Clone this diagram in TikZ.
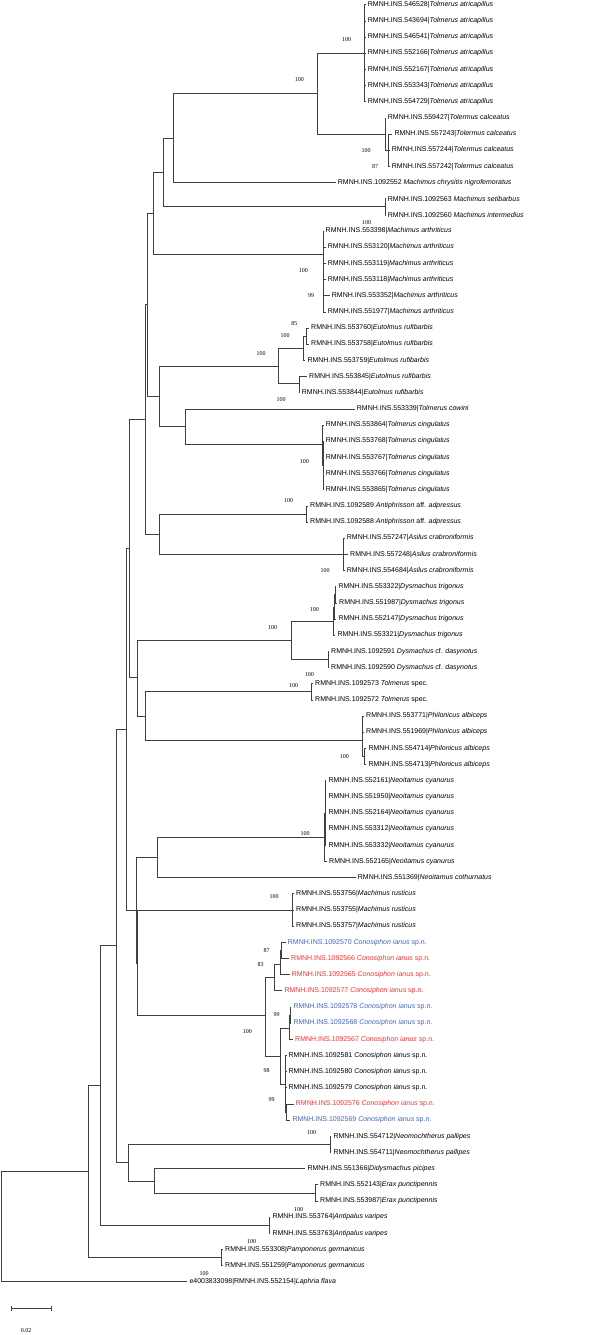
\documentclass[tikz,border=0pt]{standalone}
\usepackage{fontspec}
\setmainfont{Liberation Sans}
\newfontfamily\bootfont{Liberation Serif}
\usepackage{xcolor}
\usepackage{tikz}
\definecolor{idblue}{RGB}{68,100,190}
\definecolor{idred}{RGB}{245,50,50}

\begin{document}
\begin{tikzpicture}[x=1pt, y=-16.165pt,
    leaf/.style={anchor=west, inner xsep=2pt, inner ysep=0pt, font=\fontsize{7}{8}\selectfont},
    boot/.style={inner sep=0pt, font=\bootfont\fontsize{6}{7}\selectfont},
    branch/.style={line width=0.6pt, black!75}]
    \useasboundingbox (0,0.7093) rectangle (609,83.295);

    % Tolmerus atricapillus / calceatus
    \coordinate (natr) at (364.3,4);
    \coordinate (ncal) at (385,9);
    \coordinate (ncalb) at (388,10);
    \coordinate (ntolm) at (317,6.5);
    \node[leaf] (atr1) at (365.7,1) {RMNH.INS.546528|\textit{Tolmerus atricapillus}};
    \node[leaf] (atr2) at (365.7,2) {RMNH.INS.543694|\textit{Tolmerus atricapillus}};
    \node[leaf] (atr3) at (365.7,3) {RMNH.INS.546541|\textit{Tolmerus atricapillus}};
    \node[leaf] (atr4) at (365.7,4) {RMNH.INS.552166|\textit{Tolmerus atricapillus}};
    \node[leaf] (atr5) at (365.7,5) {RMNH.INS.552167|\textit{Tolmerus atricapillus}};
    \node[leaf] (atr6) at (365.7,6) {RMNH.INS.553343|\textit{Tolmerus atricapillus}};
    \node[leaf] (atr7) at (365.7,7) {RMNH.INS.554729|\textit{Tolmerus atricapillus}};
    \node[leaf] (cal1) at (385.7,8) {RMNH.INS.559427|\textit{Tolermus calceatus}};
    \node[leaf] (cal2) at (392.3,9) {RMNH.INS.557243|\textit{Tolermus calceatus}};
    \node[leaf] (cal3) at (389.7,10) {RMNH.INS.557244|\textit{Tolermus calceatus}};
    \node[leaf] (cal4) at (389.7,11) {RMNH.INS.557242|\textit{Tolermus calceatus}};
    \draw[branch] (natr) |- (atr1.west) (natr) |- (atr2.west) (natr) |- (atr3.west) (natr) |- (atr4.west)
        (natr) |- (atr5.west) (natr) |- (atr6.west) (natr) |- (atr7.west);
    \draw[branch] (ncal) |- (cal1.west) (ncal) |- (ncalb) (ncalb) |- (cal2.west) (ncalb) |- (cal3.west) (ncalb) |- (cal4.west);
    \draw[branch] (ntolm) |- (natr) (ntolm) |- (ncal);

    % Machimus
    \coordinate (nchry) at (173.7,9.25);
    \coordinate (nseti) at (385,13.5);
    \coordinate (nmacha) at (163.3,11.375);
    \coordinate (narth) at (323.3,16.42);
    \coordinate (nmachb) at (153.3,13.9);
    \node[leaf] (chry) at (335.7,12) {RMNH.INS.1092552 \textit{Machimus chrysitis nigrofemoratus}};
    \node[leaf] (seti) at (385.7,13) {RMNH.INS.1092563 \textit{Machimus setibarbus}};
    \node[leaf] (inter) at (385.7,14) {RMNH.INS.1092560 \textit{Machimus intermedius}};
    \node[leaf] (arth1) at (323.5,15) {RMNH.INS.553398|\textit{Machimus arthriticus}};
    \node[leaf] (arth2) at (325.7,16) {RMNH.INS.553120|\textit{Machimus arthriticus}};
    \node[leaf] (arth3) at (325.7,17) {RMNH.INS.553119|\textit{Machimus arthriticus}};
    \node[leaf] (arth4) at (325.7,18) {RMNH.INS.553118|\textit{Machimus arthriticus}};
    \node[leaf] (arth5) at (329.7,19) {RMNH.INS.553352|\textit{Machimus arthriticus}};
    \node[leaf] (arth6) at (325.7,20) {RMNH.INS.551977|\textit{Machimus arthriticus}};
    \draw[branch] (nchry) |- (ntolm) (nchry) |- (chry.west);
    \draw[branch] (nseti) |- (seti.west) (nseti) |- (inter.west);
    \draw[branch] (nmacha) |- (nchry) (nmacha) |- (nseti);
    \draw[branch] (narth) |- (arth1.west) (narth) |- (arth2.west) (narth) |- (arth3.west)
        (narth) |- (arth4.west) (narth) |- (arth5.west) (narth) |- (arth6.west);
    \draw[branch] (nmachb) |- (nmacha) (nmachb) |- (narth);

    % Eutolmus, Tolmerus cowini / cingulatus
    \coordinate (neut) at (278.7,23.34);
    \coordinate (neutx) at (303.3,22.25);
    \coordinate (neutxx) at (306.7,21.5);
    \coordinate (neuty) at (299,24.42);
    \coordinate (ncow) at (185.3,27.1);
    \coordinate (ncin) at (322.7,28.22);
    \coordinate (ncinb) at (323.3,29.5);
    \coordinate (neutcow) at (159.3,25.22);
    \coordinate (nupper) at (147.7,19.52);
    \node[leaf] (eut1) at (309,21) {RMNH.INS.553760|\textit{Eutolmus rufibarbis}};
    \node[leaf] (eut2) at (309,22) {RMNH.INS.553758|\textit{Eutolmus rufibarbis}};
    \node[leaf] (eut3) at (305.3,23) {RMNH.INS.553759|\textit{Eutolmus rufibarbis}};
    \node[leaf] (eut4) at (307,24) {RMNH.INS.553845|\textit{Eutolmus rufibarbis}};
    \node[leaf] (eut5) at (299.7,25) {RMNH.INS.553844|\textit{Eutolmus rufibarbis}};
    \node[leaf] (cow) at (354.7,26) {RMNH.INS.553339|\textit{Tolmerus cowini}};
    \node[leaf] (cin1) at (323.7,27) {RMNH.INS.553864|\textit{Tolmerus cingulatus}};
    \node[leaf] (cin2) at (323.7,28) {RMNH.INS.553768|\textit{Tolmerus cingulatus}};
    \node[leaf] (cin3) at (323.7,29) {RMNH.INS.553767|\textit{Tolmerus cingulatus}};
    \node[leaf] (cin4) at (323.7,30) {RMNH.INS.553766|\textit{Tolmerus cingulatus}};
    \node[leaf] (cin5) at (323.7,31) {RMNH.INS.553865|\textit{Tolmerus cingulatus}};
    \draw[branch] (neutxx) |- (eut1.west) (neutxx) |- (eut2.west) (neutx) |- (neutxx) (neutx) |- (eut3.west);
    \draw[branch] (neuty) |- (eut4.west) (neuty) |- (eut5.west) (neut) |- (neutx) (neut) |- (neuty);
    \draw[branch] (ncinb) |- (cin2.west) (ncinb) |- (cin3.west) (ncinb) |- (cin4.west) (ncinb) |- (cin5.west);
    \draw[branch] (ncin) |- (cin1.west) (ncin) |- (ncinb) (ncow) |- (cow.west) (ncow) |- (ncin);
    \draw[branch] (neutcow) |- (neut) (neutcow) |- (ncow);
    \draw[branch] (nupper) |- (nmachb) (nupper) |- (neutcow);

    % Antiphrisson, Asilus
    \coordinate (nanti) at (306,32.5);
    \coordinate (nasil) at (343.3,35);
    \coordinate (nantasil) at (159.3,33.74);
    \coordinate (nmid) at (145,26.65);
    \node[leaf] (anti1) at (308,32) {RMNH.INS.1092589 \textit{Antiphrisson} aff. \textit{adpressus}};
    \node[leaf] (anti2) at (308,33) {RMNH.INS.1092588 \textit{Antiphrisson} aff. \textit{adpressus}};
    \node[leaf] (asil1) at (344.7,34) {RMNH.INS.557247|\textit{Asilus crabroniformis}};
    \node[leaf] (asil2) at (348,35) {RMNH.INS.557248|\textit{Asilus crabroniformis}};
    \node[leaf] (asil3) at (344.7,36) {RMNH.INS.554684|\textit{Asilus crabroniformis}};
    \draw[branch] (nanti) |- (anti1.west) (nanti) |- (anti2.west);
    \draw[branch] (nasil) |- (asil1.west) (nasil) |- (asil2.west) (nasil) |- (asil3.west);
    \draw[branch] (nantasil) |- (nanti) (nantasil) |- (nasil);
    \draw[branch] (nmid) |- (nupper) (nmid) |- (nantasil);

    % Dysmachus, Tolmerus spec., Philonicus
    \coordinate (ndys) at (291,40.3);
    \coordinate (ntri) at (333.3,39.12);
    \coordinate (ntrib) at (333.8,38.25);
    \coordinate (ntric) at (335,37.5);
    \coordinate (ndas) at (328.3,41.5);
    \coordinate (ntsp) at (311.7,43.5);
    \coordinate (nphil) at (362.3,46.5);
    \coordinate (nphila) at (362.5,45.5);
    \coordinate (nphilb) at (364.7,47.5);
    \coordinate (ntspphil) at (145.7,45);
    \coordinate (ndysphil) at (137.7,42.6);
    \coordinate (na) at (129.3,34.6);
    \node[leaf] (tri1) at (336.3,37) {RMNH.INS.553322|\textit{Dysmachus trigonus}};
    \node[leaf] (tri2) at (337,38) {RMNH.INS.551987|\textit{Dysmachus trigonus}};
    \node[leaf] (tri3) at (336.3,39) {RMNH.INS.552147|\textit{Dysmachus trigonus}};
    \node[leaf] (tri4) at (335.3,40) {RMNH.INS.553321|\textit{Dysmachus trigonus}};
    \node[leaf] (das1) at (329,41) {RMNH.INS.1092591 \textit{Dysmachus} cf. \textit{dasynotus}};
    \node[leaf] (das2) at (329,42) {RMNH.INS.1092590 \textit{Dysmachus} cf. \textit{dasynotus}};
    \node[leaf] (tsp1) at (313,43) {RMNH.INS.1092573 \textit{Tolmerus} spec.};
    \node[leaf] (tsp2) at (313,44) {RMNH.INS.1092572 \textit{Tolmerus} spec.};
    \node[leaf] (phil1) at (364,45) {RMNH.INS.553771|\textit{Philonicus albiceps}};
    \node[leaf] (phil2) at (364,46) {RMNH.INS.551969|\textit{Philonicus albiceps}};
    \node[leaf] (phil3) at (366.3,47) {RMNH.INS.554714|\textit{Philonicus albiceps}};
    \node[leaf] (phil4) at (366.3,48) {RMNH.INS.554713|\textit{Philonicus albiceps}};
    \draw[branch] (ntric) |- (tri1.west) (ntric) |- (tri2.west) (ntrib) |- (ntric) (ntrib) |- (tri3.west);
    \draw[branch] (ntri) |- (ntrib) (ntri) |- (tri4.west) (ndas) |- (das1.west) (ndas) |- (das2.west);
    \draw[branch] (ndys) |- (ntri) (ndys) |- (ndas);
    \draw[branch] (ntsp) |- (tsp1.west) (ntsp) |- (tsp2.west);
    \draw[branch] (nphila) |- (phil1.west) (nphila) |- (phil2.west) (nphilb) |- (phil3.west) (nphilb) |- (phil4.west);
    \draw[branch] (nphil) |- (nphila) (nphil) |- (nphilb);
    \draw[branch] (ntspphil) |- (ntsp) (ntspphil) |- (nphil);
    \draw[branch] (ndysphil) |- (ndys) (ndysphil) |- (ntspphil);
    \draw[branch] (na) |- (nmid) (na) |- (ndysphil);

    % Neoitamus, Machimus rusticus
    \coordinate (nneo) at (157,53.77);
    \coordinate (ncya) at (324.3,52.53);
    \coordinate (ncyab) at (325,51);
    \coordinate (nrus) at (292.7,57);
    \node[leaf] (cya1) at (326.3,49) {RMNH.INS.552161|\textit{Neoitamus cyanurus}};
    \node[leaf] (cya2) at (326.3,50) {RMNH.INS.551950|\textit{Neoitamus cyanurus}};
    \node[leaf] (cya3) at (326.3,51) {RMNH.INS.552164|\textit{Neoitamus cyanurus}};
    \node[leaf] (cya4) at (326.3,52) {RMNH.INS.553312|\textit{Neoitamus cyanurus}};
    \node[leaf] (cya5) at (326.3,53) {RMNH.INS.553332|\textit{Neoitamus cyanurus}};
    \node[leaf] (cya6) at (327,54) {RMNH.INS.552165|\textit{Neoitamus cyanurus}};
    \node[leaf] (coth) at (355.7,55) {RMNH.INS.551369|\textit{Neoitamus cothurnatus}};
    \node[leaf] (rus1) at (294,56) {RMNH.INS.553756|\textit{Machimus rusticus}};
    \node[leaf] (rus2) at (294,57) {RMNH.INS.553755|\textit{Machimus rusticus}};
    \node[leaf] (rus3) at (294,58) {RMNH.INS.553757|\textit{Machimus rusticus}};
    \draw[branch] (ncyab) |- (cya1.west) (ncyab) |- (cya2.west) (ncyab) |- (cya3.west)
        (ncyab) |- (cya4.west) (ncyab) |- (cya5.west);
    \draw[branch] (ncya) |- (ncyab) (ncya) |- (cya6.west) (nneo) |- (ncya) (nneo) |- (coth.west);
    \draw[branch] (nrus) |- (rus1.west) (nrus) |- (rus2.west) (nrus) |- (rus3.west);

    % Conosiphon ianus
    \coordinate (ncon) at (265,63.5);
    \coordinate (nc1) at (274,61.15);
    \coordinate (nc2) at (280,60.36);
    \coordinate (nc3) at (281,59.5);
    \coordinate (nc4) at (280,66.05);
    \coordinate (nc5) at (289.3,64.3);
    \coordinate (nc6) at (290,63.5);
    \coordinate (nc7) at (285.7,67.8);
    \coordinate (nc8) at (286,69.5);
    \node[leaf, text=idblue] (con1) at (285.7,59) {RMNH.INS.1092570 \textit{Conosiphon ianus} sp.n.};
    \node[leaf, text=idred] (con2) at (289,60) {RMNH.INS.1092566 \textit{Conosiphon ianus} sp.n.};
    \node[leaf, text=idred] (con3) at (289.7,61) {RMNH.INS.1092565 \textit{Conosiphon ianus} sp.n.};
    \node[leaf, text=idred] (con4) at (282.3,62) {RMNH.INS.1092577 \textit{Conosiphon ianus} sp.n.};
    \node[leaf, text=idblue] (con5) at (291.3,63) {RMNH.INS.1092578 \textit{Conosiphon ianus} sp.n.};
    \node[leaf, text=idblue] (con6) at (291.3,64) {RMNH.INS.1092568 \textit{Conosiphon ianus} sp.n.};
    \node[leaf, text=idred] (con7) at (293,65) {RMNH.INS.1092567 \textit{Conosiphon ianus} sp.n.};
    \node[leaf] (con8) at (286.3,66) {RMNH.INS.1092581 \textit{Conosiphon ianus} sp.n.};
    \node[leaf] (con9) at (286.3,67) {RMNH.INS.1092580 \textit{Conosiphon ianus} sp.n.};
    \node[leaf] (con10) at (286.3,68) {RMNH.INS.1092579 \textit{Conosiphon ianus} sp.n.};
    \node[leaf, text=idred] (con11) at (293.7,69) {RMNH.INS.1092576 \textit{Conosiphon ianus} sp.n.};
    \node[leaf, text=idblue] (con12) at (290.3,70) {RMNH.INS.1092569 \textit{Conosiphon ianus} sp.n.};
    \draw[branch] (nc3) |- (con1.west) (nc3) |- (con2.west) (nc2) |- (nc3) (nc2) |- (con3.west);
    \draw[branch] (nc1) |- (nc2) (nc1) |- (con4.west);
    \draw[branch] (nc6) |- (con5.west) (nc6) |- (con6.west) (nc5) |- (nc6) (nc5) |- (con7.west);
    \draw[branch] (nc8) |- (con11.west) (nc8) |- (con12.west);
    \draw[branch] (nc7) |- (con8.west) (nc7) |- (con9.west) (nc7) |- (con10.west) (nc7) |- (nc8);
    \draw[branch] (nc4) |- (nc5) (nc4) |- (nc7) (ncon) |- (nc1) (ncon) |- (nc4);

    % Joining the middle part
    \coordinate (nneorus) at (136.7,57.05);
    \coordinate (nruscon) at (137.7,60.27);
    \coordinate (nb) at (126,45.8);
    \draw[branch] (nruscon) |- (nrus) (nruscon) |- (ncon);
    \draw[branch] (nneorus) |- (nneo) (nneorus) |- (nruscon);
    \draw[branch] (nb) |- (na) (nb) |- (nneorus);

    % Neomochtherus, Didysmachus, Erax
    \coordinate (nneom) at (330,71.5);
    \coordinate (ndidy) at (154,73.77);
    \coordinate (nerax) at (315.7,74.5);
    \coordinate (nlow) at (128.3,72.6);
    \coordinate (nc) at (116,59.2);
    \node[leaf] (neom1) at (331.3,71) {RMNH.INS.554712|\textit{Neomochtherus pallipes}};
    \node[leaf] (neom2) at (331.3,72) {RMNH.INS.554711|\textit{Neomochtherus pallipes}};
    \node[leaf] (didy) at (305.3,73) {RMNH.INS.551366|\textit{Didysmachus picipes}};
    \node[leaf] (erax1) at (318,74) {RMNH.INS.552143|\textit{Erax punctipennis}};
    \node[leaf] (erax2) at (318,75) {RMNH.INS.553987|\textit{Erax punctipennis}};
    \draw[branch] (nneom) |- (neom1.west) (nneom) |- (neom2.west);
    \draw[branch] (nerax) |- (erax1.west) (nerax) |- (erax2.west) (ndidy) |- (didy.west) (ndidy) |- (nerax);
    \draw[branch] (nlow) |- (nneom) (nlow) |- (ndidy);
    \draw[branch] (nc) |- (nb) (nc) |- (nlow);

    % Antipalus, Pamponerus, Laphria
    \coordinate (nantip) at (269,76.5);
    \coordinate (npamp) at (221.7,78.5);
    \coordinate (nd) at (100.7,67.85);
    \coordinate (ne) at (88.3,73.15);
    \coordinate (nroot) at (1,76.5);
    \node[leaf] (antip1) at (270.3,76) {RMNH.INS.553764|\textit{Antipalus varipes}};
    \node[leaf] (antip2) at (270.3,77) {RMNH.INS.553763|\textit{Antipalus varipes}};
    \node[leaf] (pamp1) at (223,78) {RMNH.INS.553308|\textit{Pamponerus germanicus}};
    \node[leaf] (pamp2) at (223,79) {RMNH.INS.551259|\textit{Pamponerus germanicus}};
    \node[leaf] (laph) at (187.3,80) {e4003833098|RMNH.INS.552154|\textit{Laphria flava}};
    \draw[branch] (nantip) |- (antip1.west) (nantip) |- (antip2.west);
    \draw[branch] (npamp) |- (pamp1.west) (npamp) |- (pamp2.west);
    \draw[branch] (nd) |- (nc) (nd) |- (nantip);
    \draw[branch] (ne) |- (nd) (ne) |- (npamp);
    \draw[branch] (nroot) |- (ne) (nroot) |- (laph.west);

    % Bootstrap values
    \node[boot] (b1) at (346.7,3.18) {100};
    \node[boot] (b2) at (299.3,5.66) {100};
    \node[boot] (b3) at (366,10) {100};
    \node[boot] (b4) at (375,11) {87};
    \node[boot] (b5) at (366.7,14.46) {100};
    \node[boot] (b6) at (303.3,17.45) {100};
    \node[boot] (b7) at (311,19) {99};
    \node[boot] (b8) at (294.3,20.75) {85};
    \node[boot] (b9) at (285,21.48) {100};
    \node[boot] (b10) at (261,22.56) {100};
    \node[boot] (b11) at (281,25.45) {100};
    \node[boot] (b12) at (304.3,29.23) {100};
    \node[boot] (b13) at (288.7,31.7) {100};
    \node[boot] (b14) at (325,36) {100};
    \node[boot] (b15) at (314.3,38.4) {100};
    \node[boot] (b16) at (272.7,39.5) {100};
    \node[boot] (b17) at (293.7,43.09) {100};
    \node[boot] (b18) at (309.3,42.43) {100};
    \node[boot] (b19) at (344.3,47.5) {100};
    \node[boot] (b20) at (305,52.3) {100};
    \node[boot] (b21) at (274,56.2) {100};
    \node[boot] (b22) at (266.7,59.48) {87};
    \node[boot] (b23) at (260.7,60.4) {83};
    \node[boot] (b24) at (276.7,63.5) {99};
    \node[boot] (b25) at (247.3,64.53) {100};
    \node[boot] (b26) at (266.7,66.96) {98};
    \node[boot] (b27) at (271.7,68.75) {99};
    \node[boot] (b28) at (311.7,70.8) {100};
    \node[boot] (b29) at (298.7,75.53) {100};
    \node[boot] (b30) at (251.7,77.5) {100};
    \node[boot] (b31) at (204,79.48) {100};

    % Scale bar
    \coordinate (sbl) at (11.7,81.64);
    \coordinate (sbr) at (51.7,81.64);
    \draw[branch] (sbl) -- (sbr);
    \draw[branch] ([yshift=2.5pt]sbl) -- ([yshift=-2.5pt]sbl);
    \draw[branch] ([yshift=2.5pt]sbr) -- ([yshift=-2.5pt]sbr);
    \node[boot] (sblab) at (26,83.03) {0.02};
\end{tikzpicture}
\end{document}
